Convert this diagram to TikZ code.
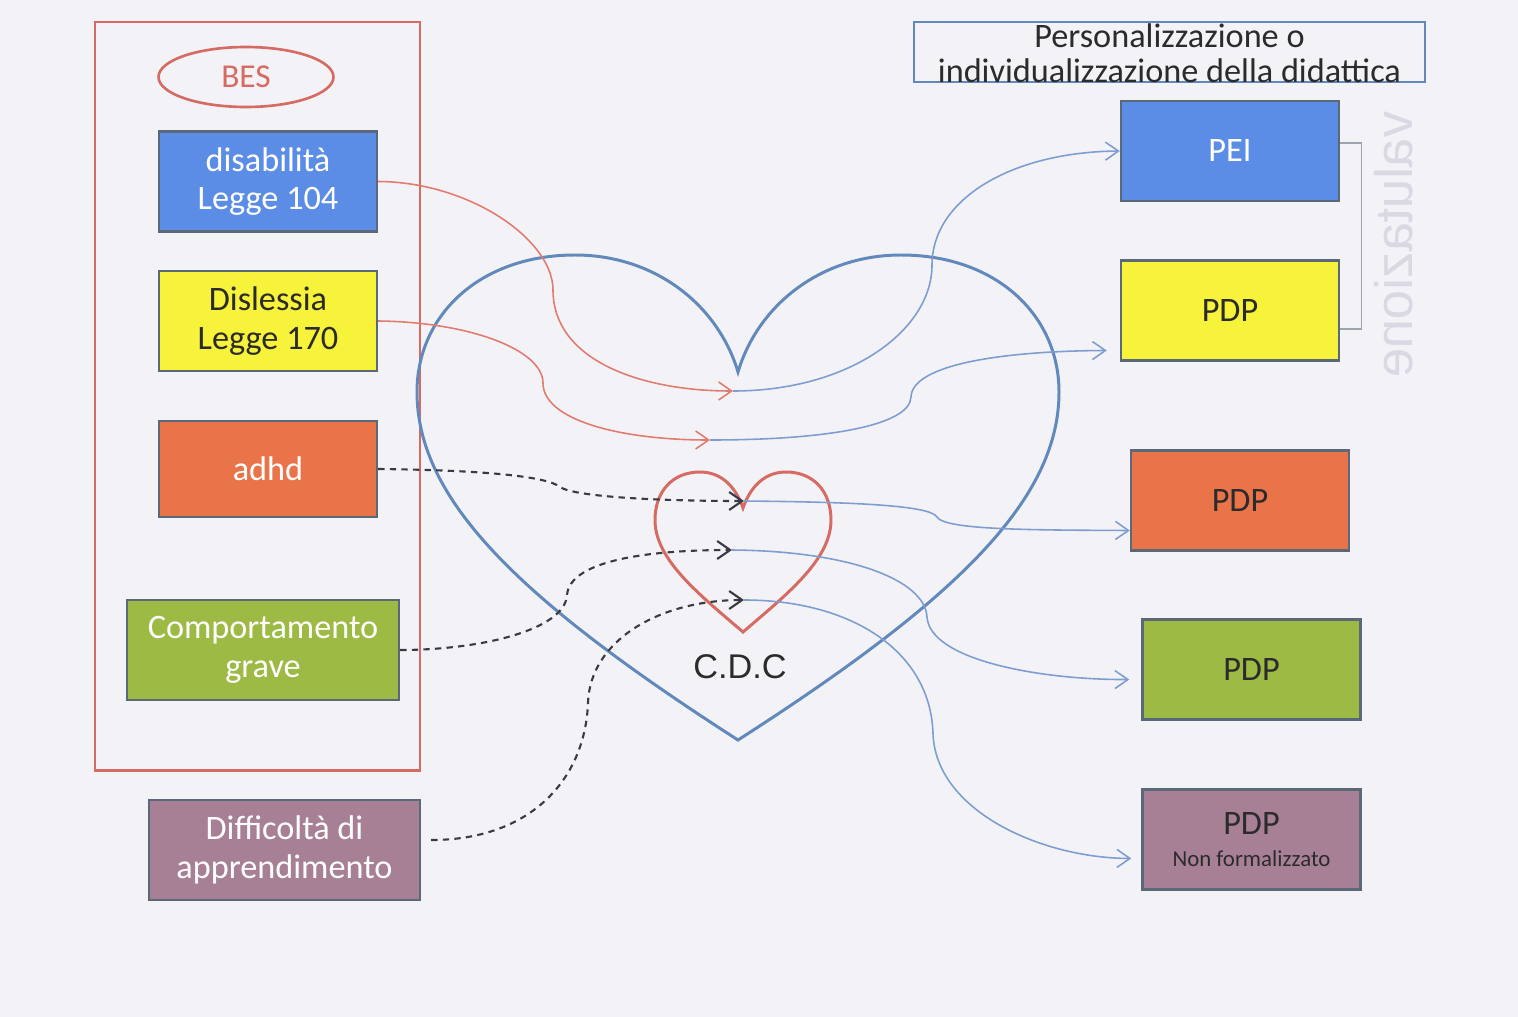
\documentclass[tikz,border=0pt]{standalone}
\usepackage{fontspec}
\setmainfont{Carlito}
\newfontfamily\arialfont{Liberation Sans}
\usetikzlibrary{shapes.geometric,arrows.meta}

\definecolor{sfondo}{HTML}{F3F2F7}
\definecolor{rossobes}{HTML}{D66B63}
\definecolor{bluebox}{HTML}{5C8DE6}
\definecolor{giallobox}{HTML}{F7F23A}
\definecolor{arancio}{HTML}{EA7449}
\definecolor{verdebox}{HTML}{9DBA44}
\definecolor{malva}{HTML}{A88096}
\definecolor{bordo}{HTML}{5A6878}
\definecolor{bluecuore}{HTML}{6289BC}
\definecolor{bluefreccia}{HTML}{7E9DD0}
\definecolor{rossofreccia}{HTML}{E27B70}
\definecolor{tratteggio}{HTML}{3A3A44}
\definecolor{testoscuro}{HTML}{2B2B2B}
\definecolor{grigiochiaro}{HTML}{DAD8E2}

\begin{document}
\begin{tikzpicture}[x=0.02cm, y=-0.02cm,
    box/.style={draw=bordo, line width=1.4pt, minimum width=4.36cm, minimum height=2cm,
                align=center, text=white, font=\fontsize{19.5}{22}\selectfont},
    rosso/.style={draw=rossofreccia, line width=0.9pt, -{Straight Barb[length=2.6mm,width=3.6mm]}},
    blu/.style={draw=bluefreccia, line width=0.9pt, -{Straight Barb[length=2.6mm,width=3.6mm]}},
    tratto/.style={draw=tratteggio, line width=1.2pt, dash pattern=on 3.6pt off 3pt,
                   -{Straight Barb[length=2.6mm,width=3.6mm]}}]

    % Background and bounding box
    \fill[sfondo] (0,0) rectangle (1518,1017);
    \useasboundingbox (0,0) rectangle (1518,1017);

    % Draw BES frame
    \draw[rossobes, line width=1.7pt] (95,22) rectangle (420,770);
    \node[draw=rossobes, line width=1.5pt, ellipse, minimum width=3.5cm, minimum height=1.2cm,
          text=rossobes, font=\fontsize{19}{20}\selectfont] (bes) at (246,77) {BES};

    % Draw left boxes
    \node[box, fill=bluebox] (dis) at (268,181.5) {disabilità\\Legge 104};
    \node[box, fill=giallobox, text=testoscuro] (disl) at (268,321) {Dislessia\\Legge 170};
    \node[box, fill=arancio, minimum height=1.92cm] (adhd) at (268,469) {adhd};
    \node[box, fill=verdebox, minimum width=5.44cm] (comp) at (263,650) {Comportamento\\grave};
    \node[box, fill=malva, minimum width=5.42cm] (diff) at (284.5,850) {Difficoltà di\\apprendimento};

    % Draw title box
    \node[draw=bluecuore, line width=1.3pt, minimum width=10.22cm, minimum height=1.2cm] (titolo) at (1169.5,52) {};
    \node[align=center, text=testoscuro, font=\fontsize{19.5}{20}\selectfont] (titolotesto) at (1169.5,53)
        {Personalizzazione o\\individualizzazione della didattica};

    % Draw right boxes
    \node[box, fill=bluebox] (pei) at (1230,151) {PEI};
    \node[box, fill=giallobox, text=testoscuro] (pdpgiallo) at (1230,310.5) {PDP};
    \node[box, fill=arancio, text=testoscuro] (pdparancio) at (1240,500.5) {PDP};
    \node[box, fill=verdebox, text=testoscuro] (pdpverde) at (1251.5,669.5) {PDP};
    \node[box, fill=malva, text=testoscuro] (pdpmalva) at (1251.5,839.5)
        {PDP\\[-4pt]{\fontsize{13}{15}\selectfont Non formalizzato}};

    % Draw valutazione bracket
    \draw[draw=bordo!60, line width=0.8pt] (pei.east) ++(0,-8) -- ++(21,0) -- ++(0,186) -- ++(-21,0);
    \node[rotate=-90, yscale=-1, text=grigiochiaro, font=\arialfont\fontsize{30}{30}\selectfont] (valutazione)
        at (1394,245) {valutazione};

    % Draw hearts
    \draw[bluecuore, line width=1.7pt] (738,372)
        .. controls (718,305) and (655,255) .. (575,255)
        .. controls (480,255) and (417,315) .. (417,392)
        .. controls (417,500) and (520,600) .. (738,740)
        .. controls (956,600) and (1059,500) .. (1059,392)
        .. controls (1059,315) and (996,255) .. (901,255)
        .. controls (821,255) and (758,305) .. cycle;
    \draw[rossobes, line width=1.7pt] (743,508)
        .. controls (735,485) and (720,472) .. (700,472)
        .. controls (672,472) and (655,492) .. (655,520)
        .. controls (655,560) and (700,595) .. (743,632)
        .. controls (786,595) and (831,560) .. (831,520)
        .. controls (831,492) and (814,472) .. (786,472)
        .. controls (766,472) and (751,485) .. cycle;
    \node[font=\arialfont\fontsize{19.5}{20}\selectfont, text=testoscuro] (cdc) at (740,667) {C.D.C};

    % Junction points
    \coordinate (j1) at (733,391);
    \coordinate (j2) at (710,440);
    \coordinate (j3) at (744,501);
    \coordinate (j4) at (732,550);
    \coordinate (j5) at (744,600);

    % Draw incoming lines
    \draw[rosso] (dis.east) .. controls (470,182) and (553,240) .. (553,290)
        .. controls (553,360) and (640,391) .. (j1);
    \draw[rosso] (disl.east) .. controls (470,322) and (543,350) .. (543,383)
        .. controls (543,420) and (620,440) .. (j2);
    \draw[tratto] (adhd.east) .. controls (470,470) and (545,475) .. (560,487)
        .. controls (575,497) and (660,501) .. (j3);
    \draw[tratto] (comp.east) .. controls (480,650) and (565,630) .. (567,595)
        .. controls (570,560) and (650,550) .. (j4);
    \draw[tratto] (diff.east) ++(10,-10) .. controls (530,840) and (585,780) .. (588,703)
        .. controls (590,640) and (660,600) .. (j5);

    % Draw outgoing lines
    \draw[blu] (j1) .. controls (850,391) and (932,330) .. (932,265)
        .. controls (932,200) and (1010,152) .. (pei.west);
    \draw[blu] (j2) .. controls (830,440) and (910,425) .. (911,397)
        .. controls (912,365) and (1000,351) .. ([xshift=-0.26cm,yshift=-0.8cm]pdpgiallo.west);
    \draw[blu] (j3) .. controls (850,502) and (930,505) .. (937,517)
        .. controls (945,530) and (1030,530) .. ([yshift=-0.6cm]pdparancio.west);
    \draw[blu] (j4) .. controls (850,551) and (925,580) .. (927,617)
        .. controls (930,660) and (1040,680) .. ([xshift=-0.24cm,yshift=-0.2cm]pdpverde.west);
    \draw[blu] (j5) .. controls (850,600) and (930,650) .. (933,733)
        .. controls (935,810) and (1040,858) .. ([xshift=-0.2cm,yshift=-0.38cm]pdpmalva.west);
\end{tikzpicture}
\end{document}
